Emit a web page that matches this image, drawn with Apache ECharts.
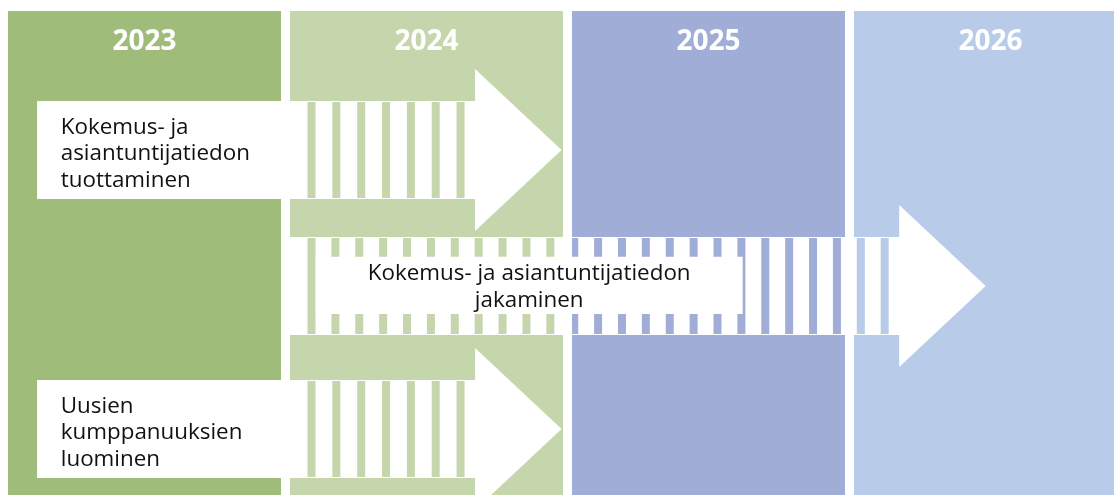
<!DOCTYPE html>
<html>
<head>
<meta charset="utf-8">
<script src="https://cdn.jsdelivr.net/npm/echarts@6/dist/echarts.min.js"></script>
<style>
  html, body { margin: 0; padding: 0; background: #ffffff; }
  #chart { width: 1114px; height: 495px; }
</style>
</head>
<body>
<div id="chart"></div>
<script>
// ---- data ----
const years = ['2023', '2024', '2025', '2026'];
const yearStart = [2023, 2024, 2025, 2026];
const arrowLabels = [
  'Kokemus- ja\nasiantuntijatiedon\ntuottaminen',
  'Kokemus- ja asiantuntijatiedon\njakaminen',
  'Uusien\nkumppanuuksien\nluominen'
];
const arrowStart = [2023.103, 2024.0, 2023.103];
const arrowEnd = [2024.963, 2026.467, 2024.963];
const arrowLane = [0, 1, 2];

// ---- layout & style (not data) ----
const L = {
  xMin: 2022.9716, xMax: 2026.922,       // x axis in years (1 year = 282 px)
  yMin: 0, yMax: 495,                     // y axis in layout units
  colWidth: 273 / 282,
  colTop: 11, colBottom: 495,
  yearLabelY: 42,
  laneY: [150, 286, 429],
  bodyHalf: 49,
  headHalf: 81,
  headLen: 86.5,
  stripeOffset: 17.5,   // px from 2024 column start
  stripeWidth: 8,
  stripePeriod: 24.3,
  stripeEndGap: 10.5,
  textInset: 23.7,
  lineHeight: 26.4,
  textDy: 4
};
const colColors = ['#a0bc7a', '#c5d6ac', '#a0add6', '#b8ccea'];
const arrowStyle = [
  { align: 'left' },
  { align: 'center', box: [2024.0911, 2025.6053], boxHalfTop: 29.3, boxHalfBottom: 28 },
  { align: 'left' }
];
const FONT = '"Open Sans", "Noto Sans", sans-serif';

const chart = echarts.init(document.getElementById('chart'), null, { renderer: 'canvas' });

function renderColumn(params, api) {
  const i = params.dataIndex;
  const x0 = api.value(0);
  const p0 = api.coord([x0, L.colTop]);
  const p1 = api.coord([x0 + L.colWidth, L.colBottom]);
  const ly = api.coord([x0, L.yearLabelY])[1];
  return {
    type: 'group',
    children: [
      { type: 'rect', shape: { x: p0[0], y: p0[1], width: p1[0] - p0[0], height: p1[1] - p0[1] },
        style: { fill: colColors[i] } },
      { type: 'text', style: { text: years[i], x: (p0[0] + p1[0]) / 2, y: ly,
        align: 'center', verticalAlign: 'middle', fill: '#ffffff',
        font: 'bold 28px ' + FONT } }
    ]
  };
}

function renderArrow(params, api) {
  const i = params.dataIndex;
  const xs = api.coord([api.value(0), 0])[0];
  const xe = api.coord([api.value(1), 0])[0];
  const cy = api.coord([L.xMin, L.laneY[api.value(2)]])[1];
  const unit = api.size([0, 1])[1];
  const bh = L.bodyHalf * unit, hh = L.headHalf * unit;
  const xh = xe - L.headLen;
  const children = [];
  children.push({
    type: 'polygon',
    shape: { points: [[xs, cy - bh], [xh, cy - bh], [xh, cy - hh], [xe, cy], [xh, cy + hh], [xh, cy + bh], [xs, cy + bh]] },
    style: { fill: '#ffffff' }
  });
  // stripes of column colour over the arrow body
  const sStart = api.coord([2024, 0])[0] + L.stripeOffset;
  const sEnd = xh - L.stripeEndGap;
  const span = sEnd - sStart - L.stripeWidth;
  const n = Math.max(0, Math.round(span / L.stripePeriod));
  const period = n > 0 ? span / n : 0;
  const cols = yearStart.map(y => [api.coord([y, 0])[0], api.coord([y + L.colWidth, 0])[0]]);
  for (let k = 0; k <= n; k++) {
    const a = sStart + k * period, b = a + L.stripeWidth;
    cols.forEach((c, ci) => {
      const lo = Math.max(a, c[0]), hi = Math.min(b, c[1]);
      if (hi - lo > 0.2) {
        children.push({ type: 'rect', shape: { x: lo, y: cy - bh + 1, width: hi - lo, height: 2 * bh - 2 },
          style: { fill: colColors[ci] } });
      }
    });
  }
  const st = arrowStyle[i];
  const fontStr = '22.4px ' + FONT;
  if (st.box) {
    const bx0 = api.coord([st.box[0], 0])[0], bx1 = api.coord([st.box[1], 0])[0];
    children.push({ type: 'rect',
      shape: { x: bx0, y: cy - st.boxHalfTop * unit, width: bx1 - bx0, height: (st.boxHalfTop + st.boxHalfBottom) * unit },
      style: { fill: '#ffffff' } });
    children.push({ type: 'text', style: { text: arrowLabels[i], x: (bx0 + bx1) / 2, y: cy + 1,
      align: 'center', verticalAlign: 'middle', fill: '#111111', font: fontStr, lineHeight: L.lineHeight } });
  } else {
    children.push({ type: 'text', style: { text: arrowLabels[i], x: xs + L.textInset, y: cy + L.textDy,
      align: 'left', verticalAlign: 'middle', fill: '#111111', font: fontStr, lineHeight: L.lineHeight } });
  }
  return { type: 'group', children };
}

chart.setOption({
  animation: false,
  grid: { left: 0, right: 0, top: 0, bottom: 0 },
  xAxis: { type: 'value', min: L.xMin, max: L.xMax, show: false, splitLine: { show: false } },
  yAxis: { type: 'value', min: L.yMin, max: L.yMax, inverse: true, show: false, splitLine: { show: false } },
  series: [
    { type: 'custom', coordinateSystem: 'cartesian2d', clip: false,
      data: yearStart.map((y, i) => [y, i]), encode: { x: 0 }, renderItem: renderColumn, silent: true },
    { type: 'custom', coordinateSystem: 'cartesian2d', clip: false,
      data: arrowLabels.map((t, i) => [arrowStart[i], arrowEnd[i], arrowLane[i]]), encode: { x: [0, 1] },
      renderItem: renderArrow, silent: true }
  ]
});
</script>
</body>
</html>
